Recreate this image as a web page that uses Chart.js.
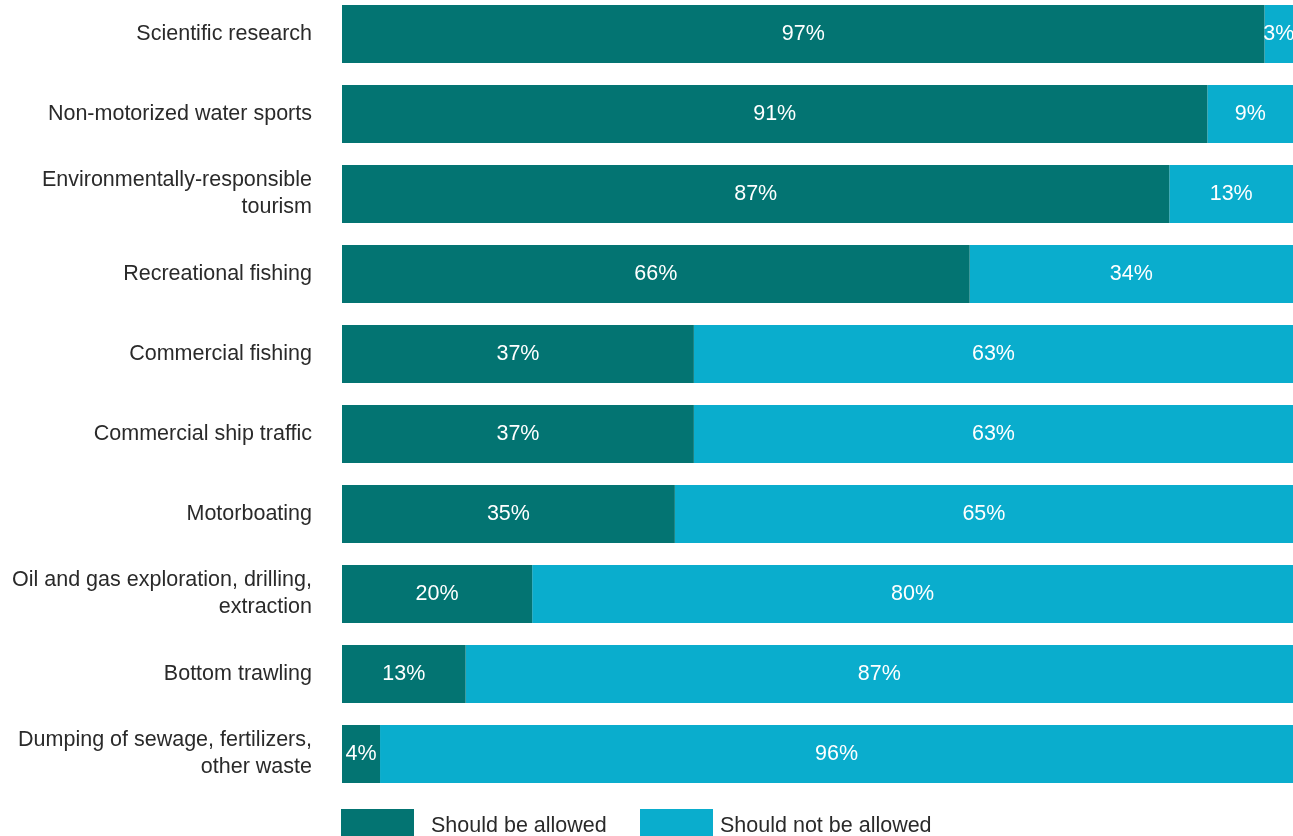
<!DOCTYPE html>
<html>
<head>
<meta charset="utf-8">
<script src="https://cdn.jsdelivr.net/npm/chart.js@4/dist/chart.umd.min.js"></script>
<style>
  html, body { margin: 0; padding: 0; background: #fff; overflow: hidden; }
  #wrap { position: absolute; left: 0; top: -6px; width: 1293px; height: 842px; }
</style>
</head>
<body>
<div id="wrap"><canvas id="container"></canvas></div>
<script>
"use strict";

// categories (top to bottom)
const categories = [
    "Scientific research",
    "Non-motorized water sports",
    ["Environmentally-responsible", "tourism"],
    "Recreational fishing",
    "Commercial fishing",
    "Commercial ship traffic",
    "Motorboating",
    ["Oil and gas exploration, drilling,", "extraction"],
    "Bottom trawling",
    ["Dumping of sewage, fertilizers,", "other waste"]
];

const allowed = [97, 91, 87, 66, 37, 37, 35, 20, 13, 4];
const notAllowed = [3, 9, 13, 34, 63, 63, 65, 80, 87, 96];

const seriesNames = ["Should be allowed", "Should not be allowed"];

const FONT = "'Liberation Sans', Arial, Helvetica, sans-serif";
const FSIZE = 21.5;

// white % labels inside the bars
const barLabels = {
    id: "barLabels",
    afterDatasetsDraw(chart) {
        const ctx = chart.ctx;
        ctx.save();
        ctx.fillStyle = "#ffffff";
        ctx.font = FSIZE + "px " + FONT;
        ctx.textAlign = "center";
        ctx.textBaseline = "middle";
        chart.data.datasets.forEach((ds, i) => {
            chart.getDatasetMeta(i).data.forEach((bar, j) => {
                const cx = (bar.x + bar.base) / 2;
                ctx.fillText(ds.data[j] + "%", cx, bar.y);
            });
        });
        ctx.restore();
    }
};

// legend at the bottom, boxes + text
const bottomLegend = {
    id: "bottomLegend",
    afterDraw(chart) {
        const ctx = chart.ctx;
        const items = [
            { boxX: 341, textX: 431 },
            { boxX: 640, textX: 720 }
        ];
        ctx.save();
        ctx.font = FSIZE + "px " + FONT;
        ctx.textBaseline = "middle";
        ctx.textAlign = "left";
        chart.data.datasets.forEach((ds, i) => {
            const it = items[i];
            ctx.fillStyle = ds.backgroundColor;
            ctx.fillRect(it.boxX, 815, 73, 30);
            ctx.fillStyle = "#2a2a2a";
            ctx.fillText(ds.label, it.textX, 832);
        });
        ctx.restore();
    }
};

const ctx = document.getElementById("container").getContext("2d");
const dataChart = new Chart(ctx, {
    type: "bar",
    data: {
        labels: categories,
        datasets: [{
            label: seriesNames[0],
            data: allowed,
            backgroundColor: "#037472",
            borderWidth: 0
        }, {
            label: seriesNames[1],
            data: notAllowed,
            backgroundColor: "#0aadcd",
            borderWidth: 0
        }]
    },
    options: {
        indexAxis: "y",
        responsive: true,
        maintainAspectRatio: false,
        animation: false,
        layout: { padding: { top: 0, right: 0, bottom: 42, left: 0 } },
        categoryPercentage: 1,
        barPercentage: 0.725,
        plugins: {
            legend: { display: false },
            tooltip: { enabled: false }
        },
        scales: {
            x: {
                stacked: true,
                display: false,
                min: 0,
                max: 100
            },
            y: {
                stacked: true,
                grid: { display: false, drawTicks: false },
                border: { display: false },
                ticks: {
                    padding: 30,
                    color: "#2a2a2a",
                    font: { family: FONT, size: FSIZE, lineHeight: 1.25 }
                },
                afterFit(scale) {
                    scale.width = 342;
                    scale.paddingTop = 0;
                    scale.paddingBottom = 0;
                }
            }
        }
    },
    plugins: [barLabels, bottomLegend]
});
</script>
</body>
</html>
